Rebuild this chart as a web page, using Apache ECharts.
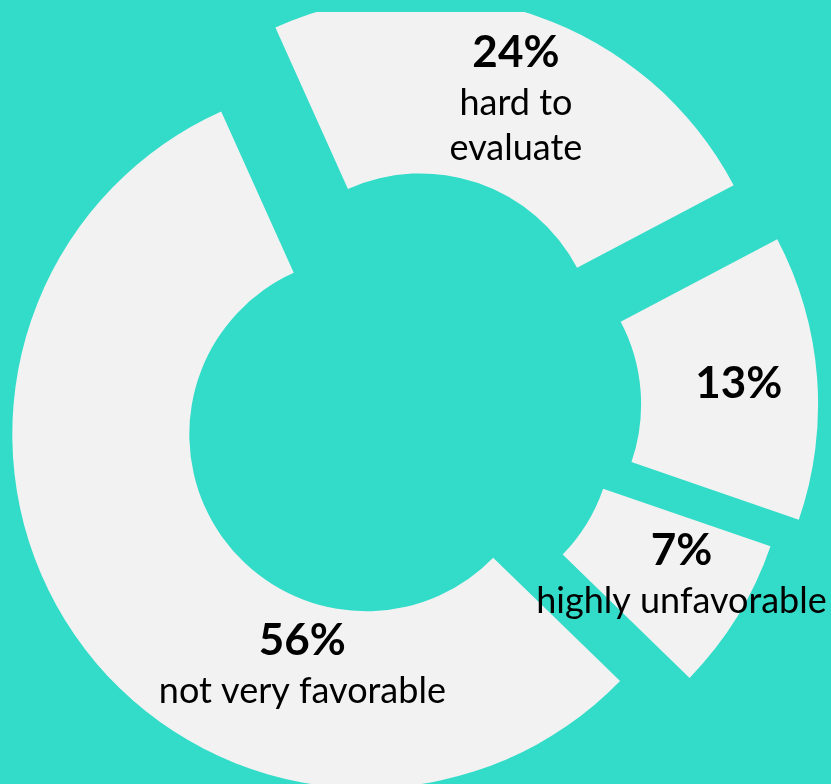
<!DOCTYPE html>
<html><head><meta charset="utf-8">
<script src="https://cdn.jsdelivr.net/npm/echarts@6/dist/echarts.min.js"></script>
<style>
html,body{margin:0;padding:0;background:#32DCC8;width:831px;height:784px;overflow:hidden}
#chart{position:absolute;left:0;top:12px;width:831px;height:772px}
</style>
</head><body><div id="chart"></div>
<script>
// ---- data ----
const categories = ['hard to\nevaluate', '', 'highly unfavorable', 'not very favorable'];
const values = [24, 13, 7, 56];

// ---- layout ----
const CLIP_TOP = 12;                 // chart area starts 12px below the page top
const pieCenter = [405, 403];        // page coords of the un-exploded centre
const explode = [[15.5, -52.6], [59.1, 1.4], [30.8, 28.1], [-38.7, 31.3]];
const radius = [177, 354];
const startAngle = 114.2;
const labelOffsets = [[8, 1], [7, 0], [17, 2], [156, 75]];
const BG = '#32DCC8', SLICE = '#F2F2F2';

const chart = echarts.init(document.getElementById('chart'), null, {renderer: 'canvas'});

function fmt(p) {
  let s = '{b|' + p.value + '%}';
  if (p.name) s += '\n' + p.name.split('\n').map(l => '{r|' + l + '}').join('\n');
  return s;
}

const series = values.map((v, i) => ({
  type: 'pie',
  center: [pieCenter[0] + explode[i][0], pieCenter[1] - CLIP_TOP + explode[i][1]],
  radius: radius,
  startAngle: startAngle,
  clockwise: true,
  silent: true,
  animation: false,
  avoidLabelOverlap: false,
  emphasis: {disabled: true},
  labelLine: {show: false},
  data: values.map((w, j) => ({
    name: categories[j],
    value: w,
    itemStyle: {color: j === i ? SLICE : 'rgba(0,0,0,0)', borderWidth: 0},
    label: {
      show: j === i,
      position: 'inside',
      offset: labelOffsets[i],
      formatter: fmt,
      color: '#000',
      rich: {
        b: {fontFamily: 'Lato', fontWeight: 'bold', fontSize: 44, lineHeight: 56, color: '#000'},
        r: {fontFamily: 'Lato', fontSize: 36, lineHeight: 45, color: '#000'}
      }
    }
  }))
}));

chart.setOption({
  backgroundColor: BG,
  animation: false,
  series: series
});
</script>
</body></html>
